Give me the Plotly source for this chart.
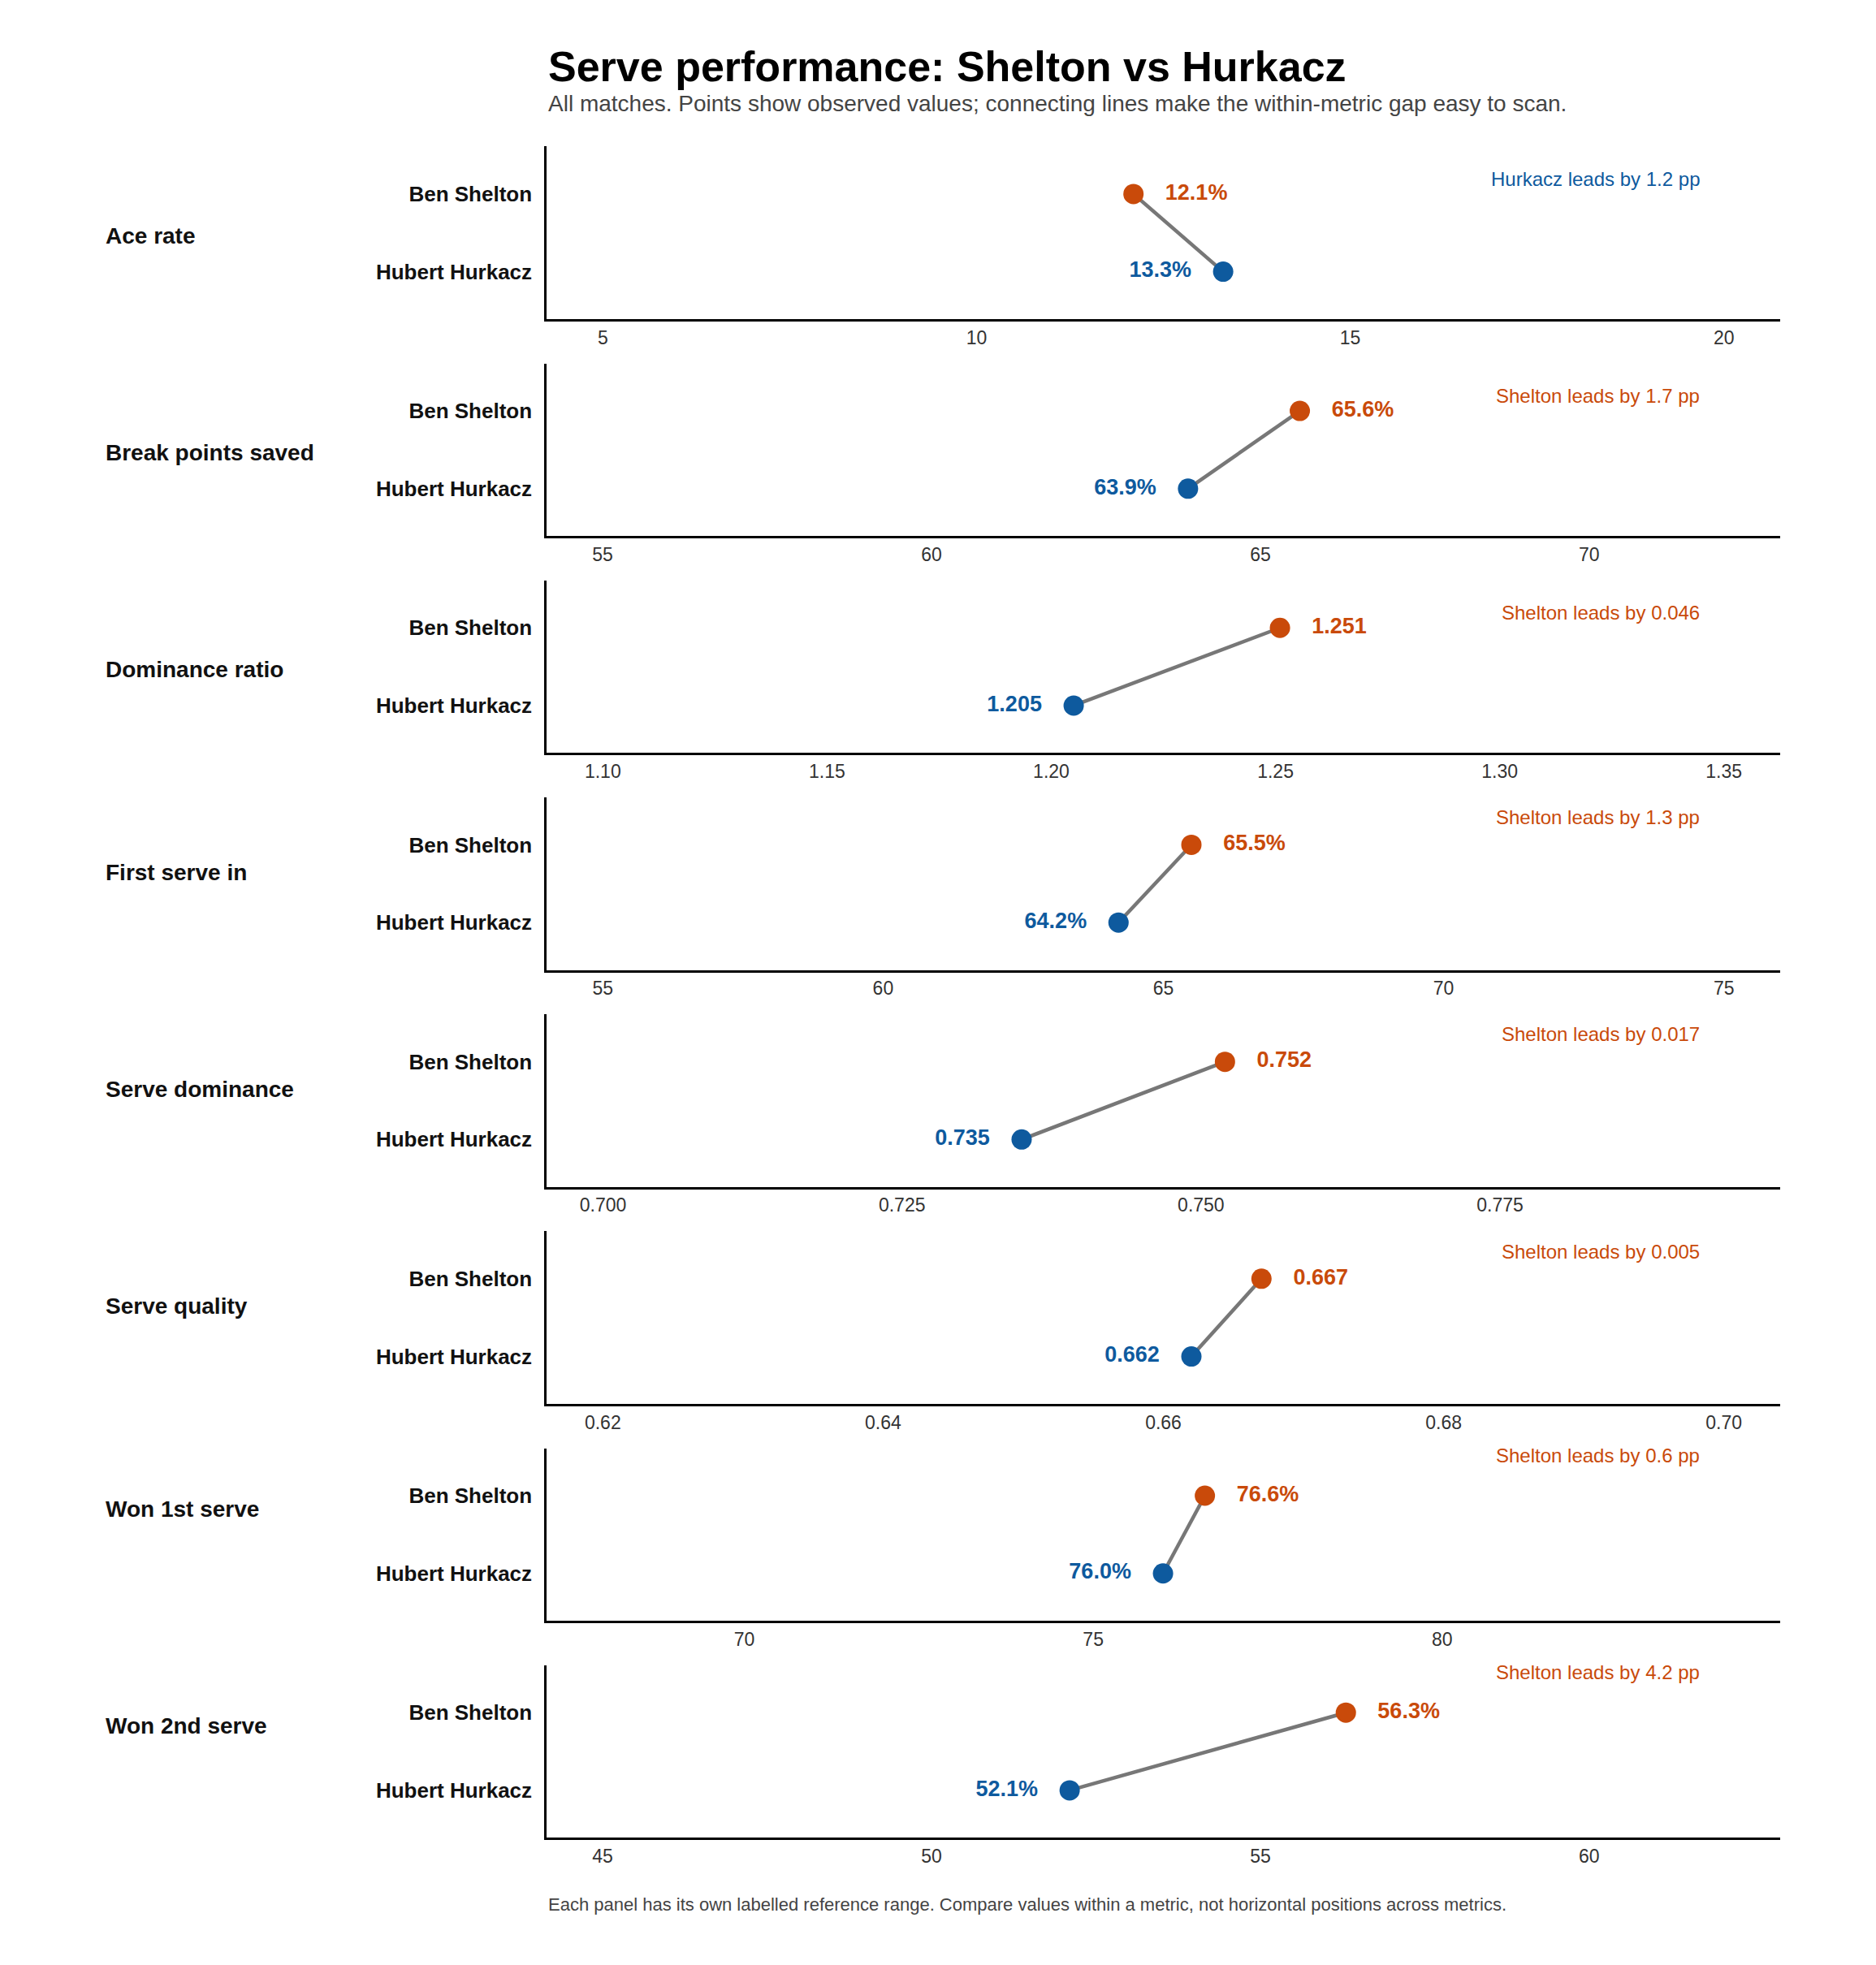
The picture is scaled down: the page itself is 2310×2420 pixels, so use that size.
import plotly.graph_objects as go

metrics = ["Ace rate", "Break points saved", "Dominance ratio", "First serve in",
           "Serve dominance", "Serve quality", "Won 1st serve", "Won 2nd serve"]
shelton = [12.1, 65.6, 1.251, 65.5, 0.752, 0.667, 76.6, 56.3]
hurkacz = [13.3, 63.9, 1.205, 64.2, 0.735, 0.662, 76.0, 52.1]
is_pct = [True, True, False, True, False, False, True, True]
x_ranges = [[4.25, 20.75], [54.15, 72.9], [1.0875, 1.3625], [54.0, 76.0],
            [0.6953, 0.7984], [0.616, 0.704], [67.17, 84.84], [44.15, 62.9]]
tick_vals = [[5, 10, 15, 20], [55, 60, 65, 70], [1.10, 1.15, 1.20, 1.25, 1.30, 1.35],
             [55, 60, 65, 70, 75], [0.700, 0.725, 0.750, 0.775],
             [0.62, 0.64, 0.66, 0.68, 0.70], [70, 75, 80], [45, 50, 55, 60]]
tick_fmt = ["", "", ".2f", "", ".3f", ".2f", "", ""]

ORANGE = "#C94A0A"
BLUE = "#0E5A9E"
GRAY = "#777777"
FONT = "Liberation Sans, Arial, sans-serif"

W, H = 2310, 2420
S = W / 1500.0          # reference was sketched at 1500 px wide
HD = H / S

def fy(y):
    return 1 - y / HD

fig = go.Figure()
layout = {}
annotations = []
for i, m in enumerate(metrics):
    n = "" if i == 0 else str(i + 1)
    top = 112 + 173.5 * i
    bot = top + 138
    fmt = (lambda v: f"{v:.1f}%") if is_pct[i] else (lambda v: f"{v:.3f}")
    xa, ya = "x" + n, "y" + n
    fig.add_trace(go.Scatter(x=[hurkacz[i], shelton[i]], y=[0, 1], mode="lines",
                             line=dict(color=GRAY, width=4.5), xaxis=xa, yaxis=ya,
                             showlegend=False, hoverinfo="skip"))
    fig.add_trace(go.Scatter(x=[shelton[i]], y=[1], mode="markers+text",
                             marker=dict(color=ORANGE, size=25),
                             text=["   <b>" + fmt(shelton[i]) + "</b>"], textposition="middle right",
                             textfont=dict(color=ORANGE, size=27, family=FONT),
                             xaxis=xa, yaxis=ya, showlegend=False))
    fig.add_trace(go.Scatter(x=[hurkacz[i]], y=[0], mode="markers+text",
                             marker=dict(color=BLUE, size=25),
                             text=["<b>" + fmt(hurkacz[i]) + "</b>   "], textposition="middle left",
                             textfont=dict(color=BLUE, size=27, family=FONT),
                             xaxis=xa, yaxis=ya, showlegend=False))
    layout["xaxis" + n] = dict(domain=[432 / 1500, 1418 / 1500], anchor=ya,
                               range=x_ranges[i], tickvals=tick_vals[i], tickformat=tick_fmt[i],
                               showgrid=False, zeroline=False, showline=True,
                               linecolor="black", linewidth=3, ticks="",
                               tickfont=dict(size=23, color="#333333", family=FONT))
    layout["yaxis" + n] = dict(domain=[fy(bot), fy(top)], anchor=xa, range=[-0.61, 1.61],
                               tickvals=[0, 1], ticktext=["<b>Hubert Hurkacz</b>", "<b>Ben Shelton</b>"],
                               showgrid=False, zeroline=False, showline=True,
                               linecolor="black", linewidth=3, ticks="", ticklabelstandoff=10,
                               tickfont=dict(size=26, color="#111111", family=FONT))
    annotations.append(dict(x=78 / 1500, y=fy(top + 60), xref="paper", yref="paper",
                            text="<b>" + m + "</b>", showarrow=False, xanchor="left",
                            font=dict(size=28, color="#111111", family=FONT)))
    diff = shelton[i] - hurkacz[i]
    who, col = ("Shelton", ORANGE) if diff > 0 else ("Hurkacz", BLUE)
    dtxt = f"{abs(diff):.1f} pp" if is_pct[i] else f"{abs(diff):.3f}"
    annotations.append(dict(x=1355 / 1500, y=fy(top + 16), xref="paper", yref="paper",
                            text=f"{who} leads by {dtxt}", showarrow=False, xanchor="right",
                            font=dict(size=24, color=col, family=FONT)))

annotations.append(dict(x=432 / 1500, y=fy(28), xref="paper", yref="paper",
                        text="<b>Serve performance: Shelton vs Hurkacz</b>", showarrow=False,
                        xanchor="left", font=dict(size=52, color="black", family=FONT)))
annotations.append(dict(x=432 / 1500, y=fy(66), xref="paper", yref="paper",
                        text="All matches. Points show observed values; connecting lines make the within-metric gap easy to scan.",
                        showarrow=False, xanchor="left", font=dict(size=28, color="#444444", family=FONT)))
annotations.append(dict(x=432 / 1500, y=fy(1527), xref="paper", yref="paper",
                        text="Each panel has its own labelled reference range. Compare values within a metric, not horizontal positions across metrics.",
                        showarrow=False, xanchor="left", font=dict(size=22, color="#444444", family=FONT)))

fig.update_layout(width=W, height=H, margin=dict(l=0, r=0, t=0, b=0),
                  plot_bgcolor="white", paper_bgcolor="white",
                  annotations=annotations, font=dict(family=FONT), **layout)
fig.write_html("out.html")
